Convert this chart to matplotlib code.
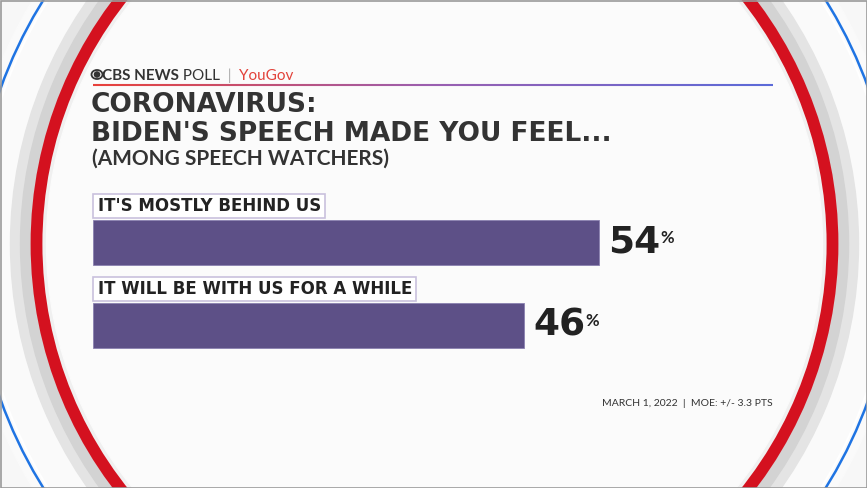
import numpy as np
import matplotlib
matplotlib.use("Agg")
import matplotlib.pyplot as plt
from matplotlib.patches import Circle, Ellipse, Rectangle, Wedge
from matplotlib.collections import LineCollection
from matplotlib.colors import LinearSegmentedColormap

# data
categories = ["IT'S MOSTLY BEHIND US", "IT WILL BE WITH US FOR A WHILE"]
values = [54, 46]
title_lines = ["CORONAVIRUS:", "BIDEN'S SPEECH MADE YOU FEEL..."]
subtitle = "(AMONG SPEECH WATCHERS)"
footer = "MARCH 1, 2022  |  MOE: +/- 3.3 PTS"

plt.rcParams["font.family"] = ["Lato", "DejaVu Sans"]
HEAVY = ["DejaVu Sans"]

W, H = 867, 488
fig = plt.figure(figsize=(W / 100, H / 100), dpi=100)
fig.patch.set_facecolor("#f7f7f7")

# background drawn in pixel coordinates
bg = fig.add_axes([0, 0, 1, 1])
bg.set_xlim(0, W)
bg.set_ylim(H, 0)
bg.axis("off")

cx, cy = 434.5, 244
bg.add_patch(Circle((cx, cy), 470, color="#fafafa", zorder=0))
bg.add_patch(Wedge((cx, cy), 424, 0, 360, width=12, color="#e4e4e4", zorder=1))
bg.add_patch(Wedge((cx, cy), 414, 0, 360, width=10, color="#d3d3d3", zorder=1))
bg.add_patch(Circle((cx, cy), 461, fill=False, ec="#1f74e3", lw=1.8, zorder=2))
bg.add_patch(Circle((cx, cy), 457, fill=False, ec="#ffffff", lw=1.5, zorder=2))
bg.add_patch(Circle((cx, cy), 393, color="#f0f0f0", zorder=2))
bg.add_patch(Circle((cx, cy), 388, color="#fbfbfb", zorder=2))
bg.add_patch(Circle((cx, cy), 398, fill=False, ec="#d4111f", lw=8.5, zorder=3))
bg.add_patch(Rectangle((0.5, 0.5), W - 1, H - 1, fill=False, ec="#9a9a9a", lw=1.2, zorder=10))

# header: CBS eye logo, poll name
bg.add_patch(Ellipse((97, 74.5), 11, 9, fill=False, ec="#333333", lw=1.3, zorder=4))
bg.add_patch(Circle((97, 74.5), 2.6, color="#333333", zorder=4))
t1 = bg.text(102, 80, "CBS NEWS", fontsize=11, fontweight="bold", color="#333333", va="baseline")
t2 = bg.annotate(" POLL", xy=(1, 0), xycoords=t1, fontsize=11, color="#333333", va="bottom")
t3 = bg.annotate("  |  ", xy=(1, 0), xycoords=t2, fontsize=11, color="#aaaaaa", va="bottom")
bg.annotate("YouGov", xy=(1, 0), xycoords=t3, fontsize=11, color="#e2433b", va="bottom")

# gradient rule under header
xs = np.linspace(93, 773, 200)
segs = [[(xs[i], 85), (xs[i + 1], 85)] for i in range(len(xs) - 1)]
cmap = LinearSegmentedColormap.from_list("rule", ["#e8413b", "#9a5fb0", "#5b6ad8"])
lc = LineCollection(segs, colors=cmap(np.linspace(0, 1, len(segs))), lw=1.5, zorder=4)
bg.add_collection(lc)

# titles
bg.text(91, 112, title_lines[0], fontsize=19, fontweight="bold", family=HEAVY, color="#333333", va="baseline")
bg.text(91, 141, title_lines[1], fontsize=19, fontweight="bold", family=HEAVY, color="#333333", va="baseline")
bg.text(92, 165, subtitle, fontsize=15, fontweight="bold", color="#333333", va="baseline")

bg.text(773, 406, footer, fontsize=7.5, color="#333333", ha="right", va="baseline")

# bars
ax = fig.add_axes([93 / W, (H - 355) / H, 750 / W, 165 / H])
ax.set_facecolor("none")
y = np.arange(len(categories))
bar_h = 0.542
ax.barh(y, values, height=bar_h, color="#5d5087", edgecolor="#8a80b0", lw=0.6)
ax.set_xlim(0, 80)
ax.set_ylim(1.355, -0.633)
ax.axis("off")

labels = []
for i, (cat, v) in enumerate(zip(categories, values)):
    lab = ax.annotate(cat, xy=(0, i - bar_h / 2), xytext=(5, 14), textcoords="offset pixels",
                      fontsize=12, fontweight="bold", family=HEAVY, color="#222222",
                      va="center", ha="left")
    labels.append(lab)
    num = ax.annotate(str(v), xy=(v, i), xytext=(9, 0), textcoords="offset pixels",
                      fontsize=27, fontweight="bold", family=HEAVY, color="#222222",
                      va="center", ha="left")
    ax.annotate("%", xy=(1, 0.84), xycoords=num, xytext=(0, 0), textcoords="offset pixels",
                fontsize=12, fontweight="bold", color="#222222", va="top", ha="left")

# white boxes behind the category labels, sized from the text
fig.canvas.draw()
r = fig.canvas.get_renderer()
for i, lab in enumerate(labels):
    bb = lab.get_window_extent(r)
    bar_top = ax.transData.transform((0, i - bar_h / 2))[1]
    x0 = 93
    x1 = bb.x1 + 4
    y0 = H - (bar_top + 26)
    bg.add_patch(Rectangle((x0, y0), x1 - x0, 24, fc="white", ec="#c9c1dd", lw=1.2, zorder=5))

fig.savefig("out.png", dpi=100, facecolor=fig.get_facecolor())
